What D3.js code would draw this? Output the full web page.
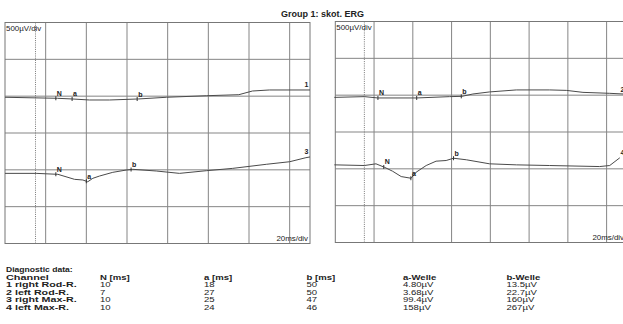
<!DOCTYPE html>
<html><head><meta charset="utf-8">
<script src="https://cdn.jsdelivr.net/npm/d3@7"></script>
<style>
html,body{margin:0;padding:0;background:#fff;}
svg{display:block;font-family:"Liberation Sans",Arial,sans-serif;}
</style></head>
<body>
<svg id="c" width="623" height="324"></svg>
<script>
// ---- data ----
const title = "Group 1: skot. ERG";
const categories = ["1 right Rod-R.", "2 left Rod-R.", "3 right Max-R.", "4 left Max-R."];
const nMs = [10, 7, 10, 10];
const aMs = [18, 27, 25, 24];
const bMs = [50, 50, 47, 46];
const aWelle = ["4.80µV", "3.68µV", "99.4µV", "158µV"];
const bWelle = ["13.5µV", "22.7µV", "160µV", "267µV"];
const headers = ["Channel", "N [ms]", "a [ms]", "b [ms]", "a-Welle", "b-Welle"];
const channelOffsets = [500, 500, -500, -500]; // µV baseline of each trace
const ch1T = [-15, 10.8, 18, 26.5, 36.4, 50.7, 64.4, 84, 100, 106.7, 115, 135];
const ch1V = [-15, -29, -38, -52, -52, -38, -15, 6, 20, 70, 84, 84];
const ch2T = [-15.5, 0, 6.9, 27, 44, 50.3, 56, 64.6, 78.4, 95.6, 104.2, 112.8, 126.6, 135];
const ch2V = [-30, -20, -38, -38, -20, -16, 16, 44, 71, 71, 65, 38, 25, 14];
const ch3T = [-15, 0.3, 11, 15, 19.2, 23.3, 25.7, 28.2, 31.5, 38, 44.6, 47.9, 59.4, 70.8, 84, 97, 113.5, 125, 133, 135];
const ch3V = [-48, -48, -61, -94, -129, -138, -162, -115, -84, -34, -3, 7, -16, -48, -12, 20, 75, 110, 165, 175];
const ch4T = [-15.5, 0, 6, 10.3, 14.6, 19, 24.1, 26.7, 31.9, 37, 42.2, 46, 52.6, 64.6, 78.4, 95.6, 121.4, 126.6, 131.8];
const ch4V = [54, 45, 68, 22, -33, -105, -128, -46, 45, 104, 113, 144, 123, 68, 54, 45, 31, 45, 150];
const timeDomain = [-15, 135];     // ms
const voltDomain = [-1500, 1500];  // µV (6 div x 500 µV)
const xGridTicks = [5, 25, 45, 65, 85, 105, 125];
const yGridTicks = [-1000, -500, 0, 500, 1000];
const voltLabel = "500µV/div";
const timeLabel = "20ms/div";

// ---- layout ----
const svg = d3.select("#c");
const panels = [
  {x0: 5, x1: 310, y0: 22.5, y1: 243.5, ch: [0, 2]},
  {x0: 335.3, x1: 626, y0: 21.5, y1: 242.5, ch: [1, 3]}
];
const traces = [[ch1T, ch1V], [ch2T, ch2V], [ch3T, ch3V], [ch4T, ch4V]];
const grey = "#858585", ink = "#222";

function interp(ts, vs, t) {
  const i = d3.bisectRight(ts, t);
  if (i <= 0) return vs[0];
  if (i >= ts.length) return vs[vs.length - 1];
  const f = (t - ts[i - 1]) / (ts[i] - ts[i - 1]);
  return vs[i - 1] + f * (vs[i] - vs[i - 1]);
}

panels.forEach(p => {
  const x = d3.scaleLinear().domain(timeDomain).range([p.x0, p.x1]);
  const y = d3.scaleLinear().domain(voltDomain).range([p.y1, p.y0]);
  const g = svg.append("g");
  g.selectAll("line.vx").data(xGridTicks).join("line")
    .attr("x1", d => x(d)).attr("x2", d => x(d)).attr("y1", p.y0).attr("y2", p.y1)
    .attr("stroke", grey).attr("stroke-width", 1);
  g.selectAll("line.hy").data(yGridTicks).join("line")
    .attr("y1", d => y(d)).attr("y2", d => y(d)).attr("x1", p.x0).attr("x2", p.x1)
    .attr("stroke", grey).attr("stroke-width", 1);
  g.append("line").attr("x1", x(0)).attr("x2", x(0)).attr("y1", p.y0).attr("y2", p.y1)
    .attr("stroke", "#777").attr("stroke-dasharray", "1,1.2").attr("stroke-width", 1);
  g.append("rect").attr("x", p.x0).attr("y", p.y0).attr("width", p.x1 - p.x0).attr("height", p.y1 - p.y0)
    .attr("fill", "none").attr("stroke", "#777").attr("stroke-width", 1);
  g.append("text").attr("transform", `translate(${p.x0 + 1},${p.y0 + 8}) scale(1.1,1)`)
    .attr("font-size", 7.2).attr("fill", ink).text(voltLabel);
  g.append("text").attr("transform", `translate(${p.x1 - 2},${p.y1 - 2.5}) scale(1.1,1)`)
    .attr("font-size", 7.2).attr("fill", ink).attr("text-anchor", "end").text(timeLabel);

  p.ch.forEach(ci => {
    const [ts, vs] = traces[ci];
    const off = channelOffsets[ci];
    const line = d3.line().x((d, i) => x(ts[i])).y(d => y(d + off)).curve(d3.curveLinear);
    g.append("path").attr("d", line(vs)).attr("fill", "none")
      .attr("stroke", "#4a4a4a").attr("stroke-width", 1);
    const marks = [["N", nMs[ci]], ["a", aMs[ci]], ["b", bMs[ci]]];
    marks.forEach(([lab, t]) => {
      const mx = x(t), my = y(interp(ts, vs, t) + off);
      g.append("line").attr("x1", mx).attr("x2", mx).attr("y1", my - 2).attr("y2", my + 2)
        .attr("stroke", "#333").attr("stroke-width", 1);
      g.append("text").attr("x", mx + 1).attr("y", my - 2.5).attr("font-size", 7)
        .attr("font-weight", "bold").attr("fill", ink).text(lab);
    });
    const lastV = vs[vs.length - 1] + off;
    g.append("text").attr("x", p.x1 - 1.5).attr("y", y(lastV) - 2.5).attr("text-anchor", "end")
      .attr("font-size", 7).attr("font-weight", "bold").attr("fill", ink).text(String(ci + 1));
  });
});

// title
svg.append("text").attr("transform", "translate(281,16.5) scale(1.1,1)")
  .attr("font-size", 8.2).attr("font-weight", "bold").attr("fill", ink).text(title);

// table
const colX = [6, 100, 204, 306.5, 403, 506.5];
const fs = 6.6;
function cell(xp, yp, txt, bold, sx) {
  svg.append("text").attr("transform", `translate(${xp},${yp}) scale(${sx},1.08)`)
    .attr("font-size", fs).attr("font-weight", bold ? "bold" : "normal").attr("fill", ink).text(txt);
}
cell(6, 272, "Diagnostic data:", true, 1.3);
headers.forEach((h, j) => cell(colX[j], 279.6, h, true, j === 0 ? 1.65 : 1.45));
categories.forEach((c, i) => {
  const yp = 287.2 + i * 7.6;
  cell(colX[0], yp, c, true, 1.62);
  cell(colX[1], yp, String(nMs[i]), false, 1.45);
  cell(colX[2], yp, String(aMs[i]), false, 1.45);
  cell(colX[3], yp, String(bMs[i]), false, 1.45);
  cell(colX[4], yp, aWelle[i], false, 1.45);
  cell(colX[5], yp, bWelle[i], false, 1.45);
});
</script>
</body></html>
